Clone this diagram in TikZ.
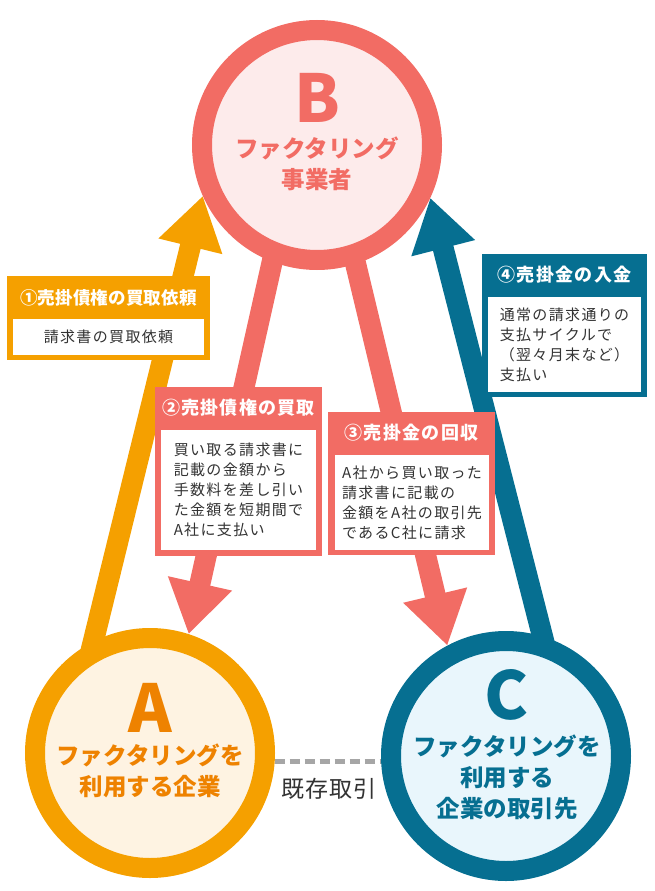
\documentclass[tikz,border=0pt]{standalone}
\usepackage{fontspec}
\setmainfont{Noto Sans CJK JP}
\usepackage{tikz}
\usetikzlibrary{arrows.meta,backgrounds,positioning}
\definecolor{orangeC}{HTML}{F5A000}
\definecolor{orangeT}{HTML}{EE8200}
\definecolor{orangeF}{HTML}{FEF3E2}
\definecolor{redC}{HTML}{F26C64}
\definecolor{redF}{HTML}{FDEBEB}
\definecolor{blueC}{HTML}{066F91}
\definecolor{blueF}{HTML}{E9F6FC}
\definecolor{textC}{HTML}{333333}
\definecolor{dashC}{HTML}{A6A6A6}
\tikzset{
  party/.style={circle, draw=#1, line width=20pt, minimum size=230pt, inner sep=0pt},
  letter/.style={font=\fontsize{66}{66}\selectfont\bfseries, anchor=base, inner sep=0pt},
  role/.style={font=\fontsize{23.5}{31}\selectfont\bfseries, align=center, inner sep=0pt},
  flow/.style={draw=#1, line width=21pt, -{Triangle[length=52pt,width=62pt]}, shorten <=-12pt},
  tag/.style={fill=#1, inner sep=0pt},
  tagtitle/.style={text=white, inner sep=0pt,
    font=\fontsize{18}{20}\selectfont\bfseries\addfontfeature{LetterSpace=7}},
  tagbody/.style={fill=white, text=textC, align=left, inner sep=0pt,
    font=\fontsize{15}{20}\selectfont\addfontfeature{LetterSpace=9}},
}
\begin{document}
\begin{tikzpicture}[x=1pt,y=-1pt]
\useasboundingbox (0,0) rectangle (654,891);

\node[party=redC, fill=redF] (B) at (317,145) {};
\node[party=orangeC, fill=orangeF] (A) at (150,753) {};
\node[party=blueC, fill=blueF] (C) at (506,756) {};

\node[letter, text=redC] (Bl) at (317,122) {B};
\node[role, text=redC] (Bt) at (317,164) {ファクタリング\\事業者};
\node[letter, text=orangeT] (Al) at (150,732) {A};
\node[role, text=orangeT] (At) at (150,771) {ファクタリングを\\利用する企業};
\node[letter, text=blueC] (Cl) at (507,719) {C};
\node[role, text=blueC] (Ct) at (507,777) {ファクタリングを\\利用する\\企業の取引先};

\begin{pgfonlayer}{background}
\draw[flow=orangeC] (A.117) -- (B.204);
\draw[flow=redC] (B.249) -- (A.72);
\draw[flow=redC] (B.288) -- (C.118);
\draw[flow=blueC] (C.73) -- (B.335);
\end{pgfonlayer}

\draw[dashC, line width=4.5pt, dash pattern=on 10pt off 5pt] (A.-4) -- (A.-4 -| C.west);
\node[text=textC, font=\fontsize{23}{23}\selectfont\addfontfeature{LetterSpace=4}] (deal) at (329,789) {既存取引};

\node[tag=orangeC, minimum width=203pt, minimum height=84pt] (t1) at (108.5,318) {};
\node[tagtitle, font=\fontsize{17.5}{20}\selectfont\bfseries\addfontfeature{LetterSpace=1}] (t1h) at (108.5,298) {①売掛債権の買取依頼};
\node[tagbody, minimum width=191pt, minimum height=36pt] (t1b) at (108.5,337) {請求書の買取依頼};

\node[tag=redC, minimum width=167pt, minimum height=169pt] (t2) at (238.5,471.5) {};
\node[tagtitle] (t2h) at (238.5,408) {②売掛債権の買取};
\node[tagbody, minimum width=155pt, minimum height=120pt] (t2b) at (238.5,490) {買い取る請求書に\\記載の金額から\\手数料を差し引い\\た金額を短期間で\\A社に支払い};

\node[tag=redC, minimum width=167pt, minimum height=143pt] (t3) at (411.5,483.5) {};
\node[tagtitle] (t3h) at (411.5,433) {③売掛金の回収};
\node[tagbody, minimum width=154pt, minimum height=95pt] (t3b) at (412,502.5) {A社から買い取った\\請求書に記載の\\金額をA社の取引先\\であるC社に請求};

\node[tag=blueC, minimum width=165pt, minimum height=143pt] (t4) at (564.5,325.5) {};
\node[tagtitle] (t4h) at (564.5,275) {④売掛金の入金};
\node[tagbody, minimum width=153pt, minimum height=95pt] (t4b) at (564.5,344.5) {通常の請求通りの\\支払サイクルで\\（翌々月末など）\\支払い};
\end{tikzpicture}
\end{document}
